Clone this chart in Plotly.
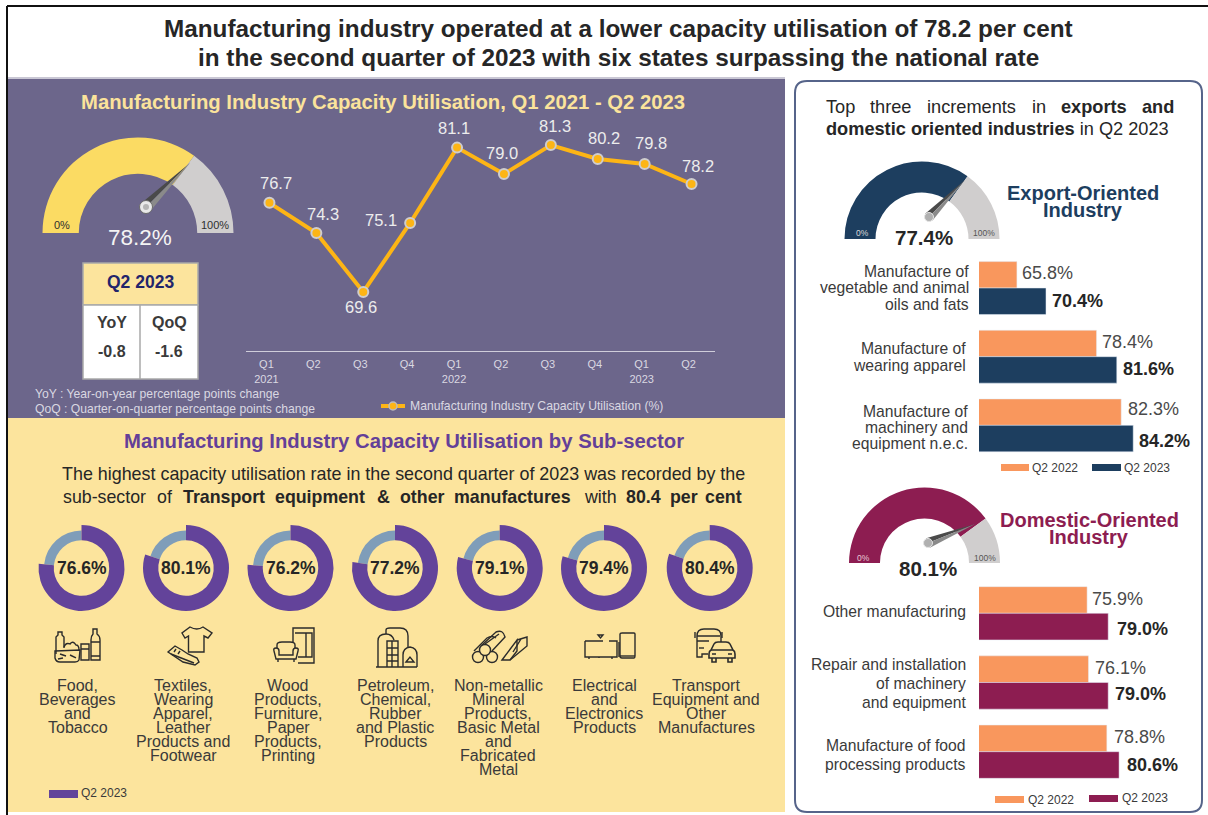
import re
import plotly.graph_objects as go

W, H = 1208, 815
FONT = "Liberation Sans"

# ---------- data ----------
quarters = ["Q1<br>2021", "Q2", "Q3", "Q4", "Q1<br>2022", "Q2", "Q3", "Q4", "Q1<br>2023", "Q2"]
utilisation = [76.7, 74.3, 69.6, 75.1, 81.1, 79.0, 81.3, 80.2, 79.8, 78.2]

sub_sector_rates = [76.6, 80.1, 76.2, 77.2, 79.1, 79.4, 80.4]
sub_sector_names = [
    ["Food,", "Beverages", "and", "Tobacco"],
    ["Textiles,", "Wearing", "Apparel,", "Leather", "Products and", "Footwear"],
    ["Wood", "Products,", "Furniture,", "Paper", "Products,", "Printing"],
    ["Petroleum,", "Chemical,", "Rubber", "and Plastic", "Products"],
    ["Non-metallic", "Mineral", "Products,", "Basic Metal", "and", "Fabricated", "Metal"],
    ["Electrical", "and", "Electronics", "Products"],
    ["Transport", "Equipment and", "Other", "Manufactures"],
]

export_cats = ["Vegetable oils", "Wearing apparel", "Machinery"]
export_2022 = [65.8, 78.4, 82.3]
export_2023 = [70.4, 81.6, 84.2]

domestic_cats = ["Other", "Repair", "Food"]
domestic_2022 = [75.9, 76.1, 78.8]
domestic_2023 = [79.0, 79.0, 80.6]

# share of the half-ring that is coloured, as drawn in the picture
gauge_overall = [70, 30]
gauge_export = [70, 30]
gauge_domestic = [80, 20]

# ---------- colours ----------
PANEL = "#6C668B"
CREAM = "#FCE49D"
PURPLE = "#63439A"
STEEL = "#7F9DB9"
NAVY = "#1D3E5F"
PLUM = "#8D1D51"
ORANGE = "#F9975D"
GREY = "#D0CECE"
INK = "#3A3A3A"
LIGHT = "#DAD8E2"

# ---------- pixel helpers ----------
def px(x):
    return x / W

def py(y):
    return 1 - y / H

shapes, notes = [], []

def conv_path(d):
    out, is_x = [], True
    for tok in d.split():
        if re.fullmatch(r"[A-Za-z]", tok):
            out.append(tok)
            is_x = True
        else:
            out.append(f"{px(float(tok)):.5f}" if is_x else f"{py(float(tok)):.5f}")
            is_x = not is_x
    return " ".join(out)

def path(d, fill=None, line=None, width=1, layer="above"):
    shapes.append(dict(type="path", xref="paper", yref="paper", path=conv_path(d), layer=layer,
                       fillcolor=fill if fill else "rgba(0,0,0,0)",
                       line=dict(color=line if line else "rgba(0,0,0,0)", width=width if line else 0)))

def rect(x0, y0, x1, y1, fill=None, line=None, width=1, layer="below"):
    shapes.append(dict(type="rect", xref="paper", yref="paper", layer=layer,
                       x0=px(x0), x1=px(x1), y0=py(y0), y1=py(y1),
                       fillcolor=fill if fill else "rgba(0,0,0,0)",
                       line=dict(color=line if line else "rgba(0,0,0,0)", width=width if line else 0)))

def circle(cx, cy, r, fill=None, line=None, width=1, layer="above"):
    shapes.append(dict(type="circle", xref="paper", yref="paper", layer=layer,
                       x0=px(cx - r), x1=px(cx + r), y0=py(cy + r), y1=py(cy - r),
                       fillcolor=fill if fill else "rgba(0,0,0,0)",
                       line=dict(color=line if line else "rgba(0,0,0,0)", width=width if line else 0)))

def seg(x0, y0, x1, y1, color, width=1, layer="below"):
    shapes.append(dict(type="line", xref="paper", yref="paper", layer=layer,
                       x0=px(x0), x1=px(x1), y0=py(y0), y1=py(y1),
                       line=dict(color=color, width=width)))

def txt(x, y, s, size=14, color=INK, bold=False, anchor="center"):
    notes.append(dict(xref="paper", yref="paper", x=px(x), y=py(y), xanchor=anchor, yanchor="middle",
                      showarrow=False, text=f"<b>{s}</b>" if bold else s, borderpad=0, borderwidth=0,
                      font=dict(family=FONT, size=size, color=color)))

def needle(hx, hy, tx, ty, half):
    dx, dy = tx - hx, ty - hy
    n = (dx * dx + dy * dy) ** 0.5
    ox, oy = -dy / n * half, dx / n * half
    path(f"M {hx - ox} {hy - oy} L {tx} {ty} L {hx} {hy} Z", fill="#4A4A4A")
    path(f"M {hx + ox} {hy + oy} L {tx} {ty} L {hx} {hy} Z", fill="#8A8A8A")

# ---------- page frame ----------
seg(7, 6, W, 6, "#111111", 2)
seg(7, 6, 7, 815, "#111111", 2)
rect(8, 79, 785, 418, fill=PANEL)
rect(8, 418, 785, 812, fill=CREAM)
seg(8, 78, 785, 78, "#B7B4C6", 1.5)
path("M 807 81 L 1190 81 Q 1202 81 1202 93 L 1202 800 Q 1202 812 1190 812 L 807 812 "
     "Q 795 812 795 800 L 795 93 Q 795 81 807 81 Z", line="#56648A", width=2, layer="below")

# ---------- titles ----------
txt(618, 28, "Manufacturing industry operated at a lower capacity utilisation of 78.2 per cent",
    24.3, "#262626", True)
txt(618, 57, "in the second quarter of 2023 with six states surpassing the national rate",
    24.3, "#262626", True)
txt(383, 102, "Manufacturing Industry Capacity Utilisation, Q1 2021 - Q2 2023", 20.3, "#FBE39B", True)
txt(404, 441, "Manufacturing Industry Capacity Utilisation by Sub-sector", 20.3, "#643F98", True)
txt(403.5, 474, "The highest capacity utilisation rate in the second quarter of 2023 was recorded by the",
    17.9, "#262626")
for x, word, b in [(62.7, "sub-sector", False), (157, "of", False), (182.7, "Transport", True),
                   (275, "equipment", True), (377, "&amp;", True), (399.6, "other", True),
                   (454, "manufactures", True), (584, "with", False), (626, "80.4", True),
                   (670, "per", True), (704.5, "cent", True)]:
    txt(x, 497, word, 17.8, "#262626", b, "left")

for x, word, b in [(826, "Top", False), (870, "three", False), (927, "increments", False),
                   (1032, "in", False), (1061, "exports", True), (1142, "and", True)]:
    txt(x, 107, word, 18.2, "#262626", b, "left")
txt(826, 129, "<b>domestic oriented industries</b> in Q2 2023", 18.2, "#262626", anchor="left")

# ---------- main gauge and table ----------
fig = go.Figure()

def gauge(cx, cy, r, hole, share, color):
    fig.add_trace(go.Pie(values=share + [sum(share)], sort=False, direction="clockwise", rotation=270,
                         hole=hole, textinfo="none", hoverinfo="skip", showlegend=False,
                         marker=dict(colors=[color, GREY, "rgba(0,0,0,0)"], line=dict(width=0)),
                         domain=dict(x=[px(cx - r), px(cx + r)], y=[py(cy + r), py(cy - r)])))

gauge(138, 233, 95.5, 0.62, gauge_overall, "#FBDB63")
gauge(922, 239, 77.5, 0.6, gauge_export, NAVY)
gauge(924.5, 563, 75.5, 0.59, gauge_domestic, PLUM)

needle(146, 207, 190, 163, 6)
circle(146, 207, 6.5, fill="#E9E9E9", line="#6A6A6A", width=1)
circle(146, 207, 3, fill="#B5B5B5")
needle(929, 217, 965, 180, 5)
circle(929, 217, 4.5, fill="#B0B0B0", line="#E4E4E4", width=1)
needle(928, 543, 975, 524, 5)
circle(928, 543, 4.5, fill="#B0B0B0", line="#E4E4E4", width=1)

txt(62, 225, "0%", 11, "#2E2E2E")
txt(215, 225, "100%", 11, "#2E2E2E")
txt(140, 237, "78.2%", 22.5, "#F4F4F4")
txt(862, 233, "0%", 8.5, "#D9D9D9")
txt(984, 233, "100%", 8.5, "#555555")
txt(924, 237, "77.4%", 20.5, "#262626", True)
txt(863, 558, "0%", 8.5, "#E6C9D6")
txt(985, 558, "100%", 8.5, "#555555")
txt(928, 568, "80.1%", 20.5, "#262626", True)

rect(83, 263, 198, 305, fill=CREAM, line="#A9A9A9", width=1.5)
rect(83, 305, 198, 379, fill="#FFFFFF", line="#A9A9A9", width=1.5)
seg(140, 305, 140, 379, "#A9A9A9", 1.5)
txt(140, 282, "Q2 2023", 17.5, "#22246B", True)
txt(112, 323, "YoY", 16, INK, True)
txt(169, 323, "QoQ", 16, INK, True)
txt(112, 352, "-0.8", 16, INK, True)
txt(169, 352, "-1.6", 16, INK, True)
txt(35, 394, "YoY : Year-on-year percentage points change", 12.15, LIGHT, anchor="left")
txt(35, 409, "QoQ : Quarter-on-quarter percentage points change", 12.15, LIGHT, anchor="left")

# ---------- line chart ----------
LX0, LX1, LY0, LY1 = 246, 715, 120, 351
LINE_MIN, LINE_MAX = 64.9, 83.3
fig.add_trace(go.Scatter(x=list(range(len(quarters))), y=utilisation, mode="lines+markers",
                         line=dict(color="#FDB515", width=4), hoverinfo="skip", showlegend=False,
                         marker=dict(size=10, color="#FDB515", line=dict(color="#CFCDCD", width=2)),
                         cliponaxis=False, xaxis="x", yaxis="y"))
label_offsets = [(7, 20), (7, 19), (-2, -15), (-29, 3), (-3, 20), (-2, 21), (4, 19), (6, 21), (6, 21), (6, 18)]
for i, (v, (ox, oy)) in enumerate(zip(utilisation, label_offsets)):
    notes.append(dict(xref="x", yref="y", x=i, y=v, xshift=ox, yshift=oy, showarrow=False,
                      text=f"{v:.1f}", font=dict(family=FONT, size=16.5, color="#EDEDED")))

seg(381, 406, 405, 406, "#FDB515", 4, layer="above")
circle(393, 406, 4, fill="#FDB515", line="#BDBBBB", width=1.5)
txt(410, 406, "Manufacturing Industry Capacity Utilisation (%)", 12.2, LIGHT, anchor="left")

# ---------- sub-sector donuts ----------
donut_x = [81.5, 186, 290.5, 395, 499.7, 604, 709.7]
label_x = [77.5, 183, 288, 395, 498, 604, 706]
for cx, lx, rate, name in zip(donut_x, label_x, sub_sector_rates, sub_sector_names):
    rest = round(100 - rate, 1)
    cy = 568
    r = 37.5
    fig.add_trace(go.Pie(values=[rate, rest], sort=False, direction="clockwise", rotation=0, hole=0.74,
                         textinfo="none", hoverinfo="skip", showlegend=False,
                         marker=dict(colors=["rgba(0,0,0,0)", STEEL], line=dict(width=0)),
                         domain=dict(x=[px(cx - r), px(cx + r)], y=[py(cy + r), py(cy - r)])))
    r = 43
    fig.add_trace(go.Pie(values=[rate, rest], sort=False, direction="clockwise", rotation=0, hole=0.645,
                         textinfo="none", hoverinfo="skip", showlegend=False,
                         marker=dict(colors=[PURPLE, "rgba(0,0,0,0)"], line=dict(width=0)),
                         domain=dict(x=[px(cx - r), px(cx + r)], y=[py(cy + r), py(cy - r)])))
    txt(cx, cy, f"{rate:.1f}%", 17.5, "#262626", True)
    y = 685
    for line in name:
        txt(lx, y, line, 16, INK)
        y += 14

rect(49, 790, 78, 798, fill=PURPLE)
txt(81, 793, "Q2 2023", 12, INK, anchor="left")

# ---------- icons ----------
ICON = "#2B2B2B"
icon_paths = [
    # food, drink
    "M 91 640 L 91 660 L 100 660 L 100 640 Q 100 636 97 634 L 97 629 L 93 629 L 93 634 Q 91 636 91 640 Z",
    "M 91 642 L 100 642 M 91 656 L 100 656",
    "M 56 654 L 56 637 L 58 635 L 58 632 L 62 632 L 62 635 L 64 637 L 64 648",
    "M 55 651 L 80 650 L 79 660 Q 78 662 75 662 L 60 662 Q 56 662 55 658 Z",
    "M 64 647 Q 66 642 70 644 Q 73 640 76 645 Q 79 645 79 650",
    "M 60 654 L 66 656 M 70 655 L 76 658 M 58 659 L 63 658",
    "M 81 644 L 89 644 L 89 660 L 81 660 Z M 81 649 L 89 649",
    # shirt, shoe
    "M 190 627 L 182 633 L 185 638 L 188.5 636 L 188.5 652 L 204 652 L 204 636 L 208 638 L 212 633 L 203 627 Q 197 631 190 627 Z",
    "M 168 652 L 175 646 L 182 650 L 188 654 L 197 658 L 199 662 L 195 665 L 183 662 Z",
    "M 171 654 L 194 663 M 176 649 L 174 652 M 180 651 L 178 654",
    # wardrobe, sofa
    "M 293 642 L 293 628 L 314 628 L 314 663 L 298 663",
    "M 295 633 L 312 633 L 312 657 L 298 657 M 306 633 L 306 657",
    "M 277 648 L 277 645 Q 277 642 282 642 L 290 642 Q 295 642 295 645 L 295 648",
    "M 274 651 Q 273 648 276 648 Q 279 648 279 651 L 279 655 L 293 655 L 293 651 Q 293 648 296 648 "
    "Q 299 648 298 651 L 296 659 L 276 659 Z",
    "M 278 659 L 278 662 M 294 659 L 294 662",
    # refinery
    "M 376 667 L 417 667",
    "M 378 667 L 378 641 Q 378 634 386 634 Q 392 634 394 640",
    "M 387 667 L 387 641 L 398 641 L 398 667 M 387 648 L 398 648 M 387 655 L 398 655 M 387 661 L 398 661 M 392 641 L 392 667",
    "M 403 667 L 403 655 Q 403 648 410 647 Q 417 648 417 655 L 417 667",
    "M 386 634 L 386 630 Q 386 628 390 628 L 400 628 Q 408 628 408 636 L 408 647",
    "M 406 662 L 410 657 L 414 662 Z",
    # pipes, angle steel
    "M 481 646 L 496 632 Q 503 629 505 637 L 492 651",
    "M 474 651 L 487 638 Q 492 635 496 638 M 485 644 L 499 634",
    "M 502 660 L 517 640 L 517 651 L 510 660 Z",
    "M 510 660 L 527 646 L 527 637 L 517 640 M 521 639 L 513 652",
    # television, phone
    "M 585 641 L 603 641 M 609 641 L 617 641 L 617 657 L 585 657 L 585 641",
    "M 598 635 L 603 635 L 600.5 638 Z M 589 657 L 589 659 M 612 657 L 612 659 M 599 657 L 599 658",
    "M 619 642 L 619 657",
    "M 622 633 L 634 633 Q 635 633 635 634 L 635 656 Q 635 658 634 658 L 622 658 Q 620 658 620 656 "
    "L 620 634 Q 620 633 622 633 Z",
    "M 620 656 L 635 656",
    # bus, car
    "M 697 650 L 697 636 Q 697 629 704 629 L 714 629 Q 721 629 721 636 L 721 643",
    "M 697 650 L 697 657 L 702 657 L 702 654 L 708 654",
    "M 697 641 L 709 641 M 697 636 L 720 636 M 695 632 L 695 638 M 722 632 L 722 638",
    "M 699 648 L 704 648",
]
for d in icon_paths:
    path(d, line=ICON, width=1.4)
path("M 711 650 L 714 644 Q 715 642 718 642 L 726 642 Q 729 642 730 644 L 733 650 Q 735 651 735 654 "
     "L 735 658 L 709 658 L 709 654 Q 709 651 711 650 Z", fill=CREAM, line=ICON, width=1.6)
path("M 711 650 L 733 650 M 712 658 L 712 662 L 716 662 L 716 658 M 728 658 L 728 662 L 732 662 L 732 658 "
     "M 712 654 L 716 654 M 728 654 L 732 654", line=ICON, width=1.6)
for cx, cy in [(478, 657), (492, 657), (485, 650)]:
    circle(cx, cy, 5.5, fill=CREAM, line=ICON, width=1.4)

# ---------- bar charts ----------
def bars(cats, v22, v23, color, xname, yname, shifts):
    fig.add_trace(go.Bar(y=cats, x=v22, orientation="h", name="Q2 2022", marker_color=ORANGE,
                         hoverinfo="skip", showlegend=False, xaxis=xname, yaxis=yname))
    fig.add_trace(go.Bar(y=cats, x=v23, orientation="h", name="Q2 2023", marker_color=color,
                         hoverinfo="skip", showlegend=False, xaxis=xname, yaxis=yname))
    for i, cat in enumerate(cats):
        for v, bold, (ox, oy) in ((v22[i], False, shifts[i][0]), (v23[i], True, shifts[i][1])):
            label = f"{v:.1f}%"
            notes.append(dict(xref=xname, yref=yname, x=v, y=cat, xanchor="left", xshift=ox, yshift=oy,
                              showarrow=False, borderpad=0,
                              text=f"<b>{label}</b>" if bold else label,
                              font=dict(family=FONT, size=18, color="#262626" if bold else "#4A4A4A")))

bars(export_cats, export_2022, export_2023, NAVY, "x2", "y2",
     [[(4.5, 15.3), (5, -12.7)], [(4, 15), (5.5, -12.3)], [(6, 16.4), (5, -15.6)]])
bars(domestic_cats, domestic_2022, domestic_2023, PLUM, "x3", "y3",
     [[(3.5, 14.3), (8, -15.7)], [(6, 14.5), (5.7, -11.5)], [(5.7, 15), (7.4, -13.3)]])

for lines in [
    [(969, 271.7, "Manufacture of"), (969, 287.7, "vegetable and animal"), (969, 304, "oils and fats")],
    [(966, 348, "Manufacture of"), (966, 365, "wearing apparel")],
    [(968, 411, "Manufacture of"), (968, 427, "machinery and"), (968, 443, "equipment n.e.c.")],
    [(966, 611.7, "Other manufacturing")],
    [(966, 664, "Repair and installation"), (966, 683, "of machinery"), (966, 702, "and equipment")],
    [(966, 745.7, "Manufacture of food"), (966, 764, "processing products")],
]:
    for x, y, s in lines:
        txt(x, y, s, 15.7, INK, anchor="right")

txt(1083, 192.7, "Export-Oriented", 20, NAVY, True)
txt(1083, 210, "Industry", 20, NAVY, True)
txt(1089, 520, "Domestic-Oriented", 20, PLUM, True)
txt(1089, 537, "Industry", 20, PLUM, True)

rect(1001, 464, 1029, 471, fill=ORANGE)
txt(1032, 468, "Q2 2022", 12, INK, anchor="left")
rect(1092, 464, 1121, 471, fill=NAVY)
txt(1124, 468, "Q2 2023", 12, INK, anchor="left")
rect(995, 796, 1024, 803, fill=ORANGE)
txt(1028, 800, "Q2 2022", 12, INK, anchor="left")
rect(1089, 795, 1118, 802, fill=PLUM)
txt(1122, 798, "Q2 2023", 12, INK, anchor="left")

# ---------- layout ----------
hidden = dict(visible=False, fixedrange=True)
fig.update_layout(
    width=W, height=H, autosize=False, margin=dict(l=0, r=0, t=0, b=0),
    paper_bgcolor="#FFFFFF", plot_bgcolor="rgba(0,0,0,0)",
    bargap=0.23, bargroupgap=0, barmode="group",
    shapes=shapes, annotations=notes,
    xaxis=dict(domain=[px(LX0), px(LX1)], range=[-0.5, len(quarters) - 0.5], tickmode="array",
               tickvals=list(range(len(quarters))), ticktext=quarters, showgrid=False, zeroline=False,
               showline=True, linecolor="#CFCDDA", linewidth=1, ticks="", ticklabelstandoff=3,
               ticklabelshift=-3, tickfont=dict(family=FONT, size=11, color=LIGHT), anchor="y"),
    yaxis=dict(domain=[py(LY1), py(LY0)], range=[LINE_MIN, LINE_MAX], visible=False, anchor="x"),
    xaxis2=dict(domain=[px(979), px(1200)], range=[59.8, 59.8 + 221 / 6.32], anchor="y2", **hidden),
    yaxis2=dict(domain=[py(459.7), py(253.7)], autorange="reversed", anchor="x2", **hidden),
    xaxis3=dict(domain=[px(979), px(1200)], range=[60, 60 + 221 / 6.8], anchor="y3", **hidden),
    yaxis3=dict(domain=[py(786.3), py(578.7)], autorange="reversed", anchor="x3", **hidden),
)

fig.write_html("out.html", config=dict(displayModeBar=False),
               post_script="document.body.style.margin='0';document.documentElement.style.overflow='hidden';")
